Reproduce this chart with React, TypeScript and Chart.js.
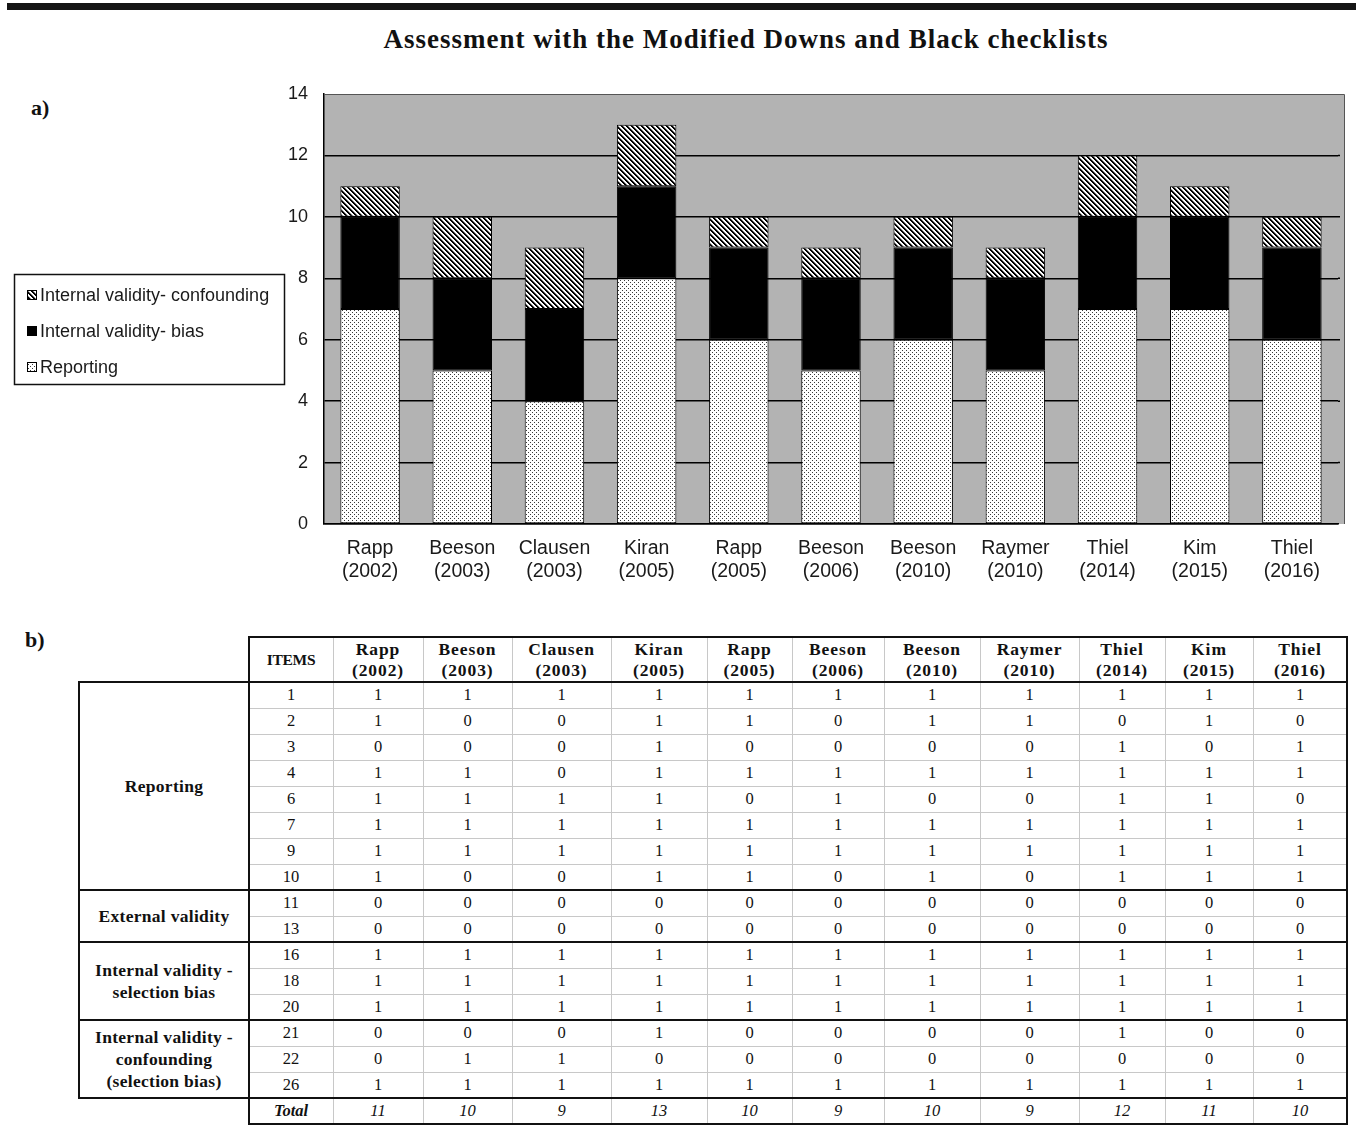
import React, { useEffect, useRef } from "react";
import { Chart, registerables } from "chart.js";

Chart.register(...registerables);

// ---------- Chart data ----------
const studyNames = ["Rapp", "Beeson", "Clausen", "Kiran", "Rapp", "Beeson", "Beeson", "Raymer", "Thiel", "Kim", "Thiel"];
const studyYears = ["(2002)", "(2003)", "(2003)", "(2005)", "(2005)", "(2006)", "(2010)", "(2010)", "(2014)", "(2015)", "(2016)"];
const reportingScores = [7, 5, 4, 8, 6, 5, 6, 5, 7, 7, 6];
const biasScores = [3, 3, 3, 3, 3, 3, 3, 3, 3, 3, 3];
const confoundingScores = [1, 2, 2, 2, 1, 1, 1, 1, 2, 1, 1];
const seriesLabels = ["Reporting", "Internal validity- bias", "Internal validity- confounding"];
const yAxisMax = 14;
const yAxisStep = 2;

// ---------- Table data ----------
const itemNumbers = ["1", "2", "3", "4", "6", "7", "9", "10", "11", "13", "16", "18", "20", "21", "22", "26"];
const itemScores: number[][] = [
  [1, 1, 1, 1, 1, 1, 1, 1, 1, 1, 1],
  [1, 0, 0, 1, 1, 0, 1, 1, 0, 1, 0],
  [0, 0, 0, 1, 0, 0, 0, 0, 1, 0, 1],
  [1, 1, 0, 1, 1, 1, 1, 1, 1, 1, 1],
  [1, 1, 1, 1, 0, 1, 0, 0, 1, 1, 0],
  [1, 1, 1, 1, 1, 1, 1, 1, 1, 1, 1],
  [1, 1, 1, 1, 1, 1, 1, 1, 1, 1, 1],
  [1, 0, 0, 1, 1, 0, 1, 0, 1, 1, 1],
  [0, 0, 0, 0, 0, 0, 0, 0, 0, 0, 0],
  [0, 0, 0, 0, 0, 0, 0, 0, 0, 0, 0],
  [1, 1, 1, 1, 1, 1, 1, 1, 1, 1, 1],
  [1, 1, 1, 1, 1, 1, 1, 1, 1, 1, 1],
  [1, 1, 1, 1, 1, 1, 1, 1, 1, 1, 1],
  [0, 0, 0, 1, 0, 0, 0, 0, 1, 0, 0],
  [0, 1, 1, 0, 0, 0, 0, 0, 0, 0, 0],
  [1, 1, 1, 1, 1, 1, 1, 1, 1, 1, 1],
];
const totalScores = [11, 10, 9, 13, 10, 9, 10, 9, 12, 11, 10];
const groupLabels = [
  ["Reporting"],
  ["External validity"],
  ["Internal validity -", "selection bias"],
  ["Internal validity -", "confounding", "(selection bias)"],
];
const groupRowCounts = [8, 2, 3, 3];

// ---------- Layout constants ----------
const COL_EDGES = [79, 249, 333, 423, 512, 611, 707, 792, 884, 980, 1079, 1165, 1253, 1347];
const HEADER_TOP = 637;
const HEADER_BOTTOM = 682;
const ROW_H = 26;
const SERIF = '"Liberation Serif", "Times New Roman", serif';
const SANS = '"Liberation Sans", Arial, sans-serif';
const CANVAS_TOP = 60;

function makeDotPattern(ctx: CanvasRenderingContext2D) {
  const c = document.createElement("canvas");
  c.width = 4;
  c.height = 4;
  const g = c.getContext("2d")!;
  g.fillStyle = "#ffffff";
  g.fillRect(0, 0, 4, 4);
  g.fillStyle = "#3a3a3a";
  g.fillRect(0, 0, 1, 1);
  g.fillRect(2, 2, 1, 1);
  return ctx.createPattern(c, "repeat");
}

function makeStripePattern(ctx: CanvasRenderingContext2D) {
  const n = 5;
  const c = document.createElement("canvas");
  c.width = n;
  c.height = n;
  const g = c.getContext("2d")!;
  const img = g.createImageData(n, n);
  for (let y = 0; y < n; y++) {
    for (let x = 0; x < n; x++) {
      const d = (((x - y) % n) + n) % n;
      const v = d < 2 ? 0 : d === 2 ? 140 : 255;
      const i = (y * n + x) * 4;
      img.data[i] = v;
      img.data[i + 1] = v;
      img.data[i + 2] = v;
      img.data[i + 3] = 255;
    }
  }
  g.putImageData(img, 0, 0);
  return ctx.createPattern(c, "repeat");
}

const plotDecor = {
  id: "plotDecor",
  beforeDraw(chart: any) {
    const { ctx, chartArea: a } = chart;
    ctx.save();
    ctx.fillStyle = "#b3b3b3";
    ctx.fillRect(a.left, a.top, a.right - a.left + 6, a.bottom - a.top);
    ctx.restore();
  },
  beforeDatasetsDraw(chart: any) {
    const { ctx, chartArea: a } = chart;
    const ys = chart.scales.y;
    ctx.save();
    ctx.strokeStyle = "#000";
    ctx.lineWidth = 1.5;
    for (let v = yAxisStep; v < yAxisMax; v += yAxisStep) {
      const py = ys.getPixelForValue(v);
      ctx.beginPath();
      ctx.moveTo(a.right, py);
      ctx.lineTo(a.right + 2, py);
      ctx.stroke();
    }
    ctx.strokeStyle = "#555";
    ctx.lineWidth = 1;
    ctx.beginPath();
    ctx.moveTo(a.left, a.top + 0.5);
    ctx.lineTo(a.right + 6.5, a.top + 0.5);
    ctx.lineTo(a.right + 6.5, a.bottom);
    ctx.stroke();
    ctx.restore();
  },
  afterDraw(chart: any) {
    const ctx = chart.ctx;
    ctx.save();
    ctx.strokeStyle = "#111";
    ctx.lineWidth = 1.5;
    ctx.strokeRect(14.5, 274.5 - CANVAS_TOP, 270, 110);
    const order = [2, 1, 0];
    const ys = [295, 331, 367];
    ctx.font = "18px " + SANS;
    ctx.textBaseline = "middle";
    ctx.textAlign = "left";
    order.forEach((di, k) => {
      const ds = chart.data.datasets[di];
      const cy = ys[k] - CANVAS_TOP;
      ctx.fillStyle = ds.backgroundColor;
      ctx.fillRect(27, cy - 5, 10, 10);
      ctx.strokeStyle = "#000";
      ctx.lineWidth = 1;
      ctx.strokeRect(27.5, cy - 4.5, 9, 9);
      ctx.fillStyle = "#1a1a1a";
      ctx.fillText(ds.label, 40, cy + 1);
    });
    ctx.restore();
  },
};

function StackedChart() {
  const canvasRef = useRef<HTMLCanvasElement>(null);
  useEffect(() => {
    const canvas = canvasRef.current;
    if (!canvas) return;
    const ctx = canvas.getContext("2d")!;
    const dots = makeDotPattern(ctx);
    const stripes = makeStripePattern(ctx);
    const common = {
      borderColor: "#000",
      borderWidth: 1,
      borderSkipped: false,
      barPercentage: 0.645,
      categoryPercentage: 1,
    };
    const chart = new Chart(canvas, {
      type: "bar",
      data: {
        labels: studyNames.map((n, i) => [n, studyYears[i]]),
        datasets: [
          { label: seriesLabels[0], data: reportingScores, backgroundColor: dots, ...common },
          { label: seriesLabels[1], data: biasScores, backgroundColor: "#000", ...common },
          { label: seriesLabels[2], data: confoundingScores, backgroundColor: stripes, ...common },
        ],
      } as any,
      options: {
        animation: false,
        responsive: false,
        maintainAspectRatio: false,
        devicePixelRatio: 1,
        layout: { padding: { left: 0, right: 18, top: 34, bottom: 6 } },
        plugins: {
          legend: { display: false },
          title: { display: false },
          tooltip: { enabled: false },
        },
        scales: {
          x: {
            stacked: true,
            grid: { display: false },
            border: { display: true, color: "#000", width: 1.5 },
            ticks: {
              color: "#1a1a1a",
              font: { family: SANS, size: 19.5, lineHeight: 1.2 },
              padding: 5,
              maxRotation: 0,
              autoSkip: false,
            },
            afterFit: (s: any) => {
              s.height = 80;
            },
          },
          y: {
            stacked: true,
            min: 0,
            max: yAxisMax,
            ticks: {
              stepSize: yAxisStep,
              color: "#1a1a1a",
              font: { family: SANS, size: 18 },
              padding: 16,
            },
            grid: {
              drawTicks: false,
              color: (c: any) => (c.tick && c.tick.value === yAxisMax ? "#555" : "#000"),
              lineWidth: (c: any) => (c.tick && c.tick.value === yAxisMax ? 1 : 1.5),
            },
            border: { display: true, color: "#000", width: 1.5 },
            afterFit: (s: any) => {
              s.width = 324;
            },
          },
        },
      } as any,
      plugins: [plotDecor],
    });
    return () => chart.destroy();
  }, []);
  return (
    <canvas
      ref={canvasRef}
      width={1356}
      height={550}
      style={{ position: "absolute", left: 0, top: CANVAS_TOP, width: 1356, height: 550 }}
    />
  );
}

function Line({ x, y, w, h, color }: { x: number; y: number; w: number; h: number; color: string }) {
  return <div style={{ position: "absolute", left: x, top: y, width: w, height: h, background: color }} />;
}

function Cell({
  x1, x2, y1, y2, lines, style,
}: {
  x1: number; x2: number; y1: number; y2: number; lines: string[]; style: React.CSSProperties;
}) {
  return (
    <div
      style={{
        position: "absolute",
        left: x1,
        top: y1,
        width: x2 - x1,
        height: y2 - y1,
        display: "flex",
        flexDirection: "column",
        alignItems: "center",
        justifyContent: "center",
        whiteSpace: "nowrap",
        color: "#111",
        ...style,
      }}
    >
      {lines.map((l, i) => (
        <div key={i}>{l}</div>
      ))}
    </div>
  );
}

function ScoreTable() {
  const rowTop = (i: number) => HEADER_BOTTOM + i * ROW_H;
  const totalTop = rowTop(itemNumbers.length);
  const totalBottom = totalTop + ROW_H;
  const left = COL_EDGES[1];
  const right = COL_EDGES[COL_EDGES.length - 1];
  const els: React.ReactNode[] = [];
  const gray = "#c8c8c8";
  const black = "#111";

  for (let c = 2; c < COL_EDGES.length - 1; c++) {
    els.push(<Line key={"gv" + c} x={COL_EDGES[c]} y={HEADER_TOP} w={1} h={totalBottom - HEADER_TOP} color={gray} />);
  }
  for (let r = 1; r < itemNumbers.length; r++) {
    els.push(<Line key={"gh" + r} x={left} y={rowTop(r)} w={right - left} h={1} color={gray} />);
  }

  els.push(<Line key="tTop" x={left - 1} y={HEADER_TOP - 1} w={right - left + 2} h={2} color={black} />);
  els.push(<Line key="tLeftI" x={left - 1} y={HEADER_TOP - 1} w={2} h={totalBottom - HEADER_TOP + 2} color={black} />);
  els.push(<Line key="tRight" x={right - 1} y={HEADER_TOP - 1} w={2} h={totalBottom - HEADER_TOP + 2} color={black} />);
  els.push(<Line key="tBottom" x={left - 1} y={totalBottom - 1} w={right - left + 2} h={2} color={black} />);
  els.push(<Line key="tLeftG" x={COL_EDGES[0] - 1} y={HEADER_BOTTOM - 1} w={2} h={totalTop - HEADER_BOTTOM + 2} color={black} />);
  let acc = 0;
  const groupEdges = [0];
  groupRowCounts.forEach((n) => {
    acc += n;
    groupEdges.push(acc);
  });
  groupEdges.forEach((g, i) => {
    const y = rowTop(g);
    els.push(<Line key={"gb" + i} x={COL_EDGES[0] - 1} y={y - 1} w={right - COL_EDGES[0] + 2} h={2} color={black} />);
  });

  const headStyle: React.CSSProperties = { fontFamily: SERIF, fontWeight: 700, fontSize: 17.5, lineHeight: "21px", letterSpacing: 0.9 };
  const groupStyle: React.CSSProperties = { fontFamily: SERIF, fontWeight: 700, fontSize: 17.5, lineHeight: "22px", letterSpacing: 0.3 };
  const numStyle: React.CSSProperties = { fontFamily: SERIF, fontSize: 16.5, lineHeight: "20px" };

  els.push(
    <Cell key="hItems" x1={COL_EDGES[1]} x2={COL_EDGES[2]} y1={HEADER_TOP} y2={HEADER_BOTTOM} lines={["ITEMS"]}
      style={{ fontFamily: SERIF, fontWeight: 700, fontSize: 15.5, letterSpacing: -0.3 }} />
  );
  studyNames.forEach((n, i) => {
    els.push(
      <Cell key={"h" + i} x1={COL_EDGES[i + 2]} x2={COL_EDGES[i + 3]} y1={HEADER_TOP} y2={HEADER_BOTTOM}
        lines={[n, studyYears[i]]} style={headStyle} />
    );
  });

  itemNumbers.forEach((item, r) => {
    els.push(
      <Cell key={"i" + r} x1={COL_EDGES[1]} x2={COL_EDGES[2]} y1={rowTop(r)} y2={rowTop(r + 1)} lines={[item]} style={numStyle} />
    );
    itemScores[r].forEach((v, c) => {
      els.push(
        <Cell key={"v" + r + "_" + c} x1={COL_EDGES[c + 2]} x2={COL_EDGES[c + 3]} y1={rowTop(r)} y2={rowTop(r + 1)}
          lines={[String(v)]} style={numStyle} />
      );
    });
  });

  groupLabels.forEach((lab, g) => {
    els.push(
      <Cell key={"g" + g} x1={COL_EDGES[0]} x2={COL_EDGES[1]} y1={rowTop(groupEdges[g])} y2={rowTop(groupEdges[g + 1])}
        lines={lab} style={groupStyle} />
    );
  });

  els.push(
    <Cell key="tot" x1={COL_EDGES[1]} x2={COL_EDGES[2]} y1={totalTop} y2={totalBottom} lines={["Total"]}
      style={{ fontFamily: SERIF, fontSize: 16.5, fontStyle: "italic", fontWeight: 700 }} />
  );
  totalScores.forEach((t, c) => {
    els.push(
      <Cell key={"t" + c} x1={COL_EDGES[c + 2]} x2={COL_EDGES[c + 3]} y1={totalTop} y2={totalBottom} lines={[String(t)]}
        style={{ fontFamily: SERIF, fontSize: 16.5, fontStyle: "italic" }} />
    );
  });

  return <>{els}</>;
}

export default function App() {
  return (
    <div style={{ position: "absolute", left: 0, top: 0, width: 1356, height: 1129, background: "#fff", overflow: "hidden" }}>
      <div style={{ position: "absolute", left: 7, top: 3, width: 1349, height: 7, background: "#151515" }} />
      <div
        style={{
          position: "absolute", left: 246, top: 23, width: 1000, textAlign: "center", whiteSpace: "nowrap",
          fontFamily: SERIF, fontWeight: 700, fontSize: 27, lineHeight: "32px", letterSpacing: 1, color: "#111",
        }}
      >
        Assessment with the Modified Downs and Black checklists
      </div>
      <div style={{ position: "absolute", left: 31, top: 95, fontFamily: SERIF, fontWeight: 700, fontSize: 22, lineHeight: "26px", color: "#111" }}>
        a)
      </div>
      <StackedChart />
      <div style={{ position: "absolute", left: 25, top: 627, fontFamily: SERIF, fontWeight: 700, fontSize: 22, lineHeight: "26px", color: "#111" }}>
        b)
      </div>
      <ScoreTable />
    </div>
  );
}
